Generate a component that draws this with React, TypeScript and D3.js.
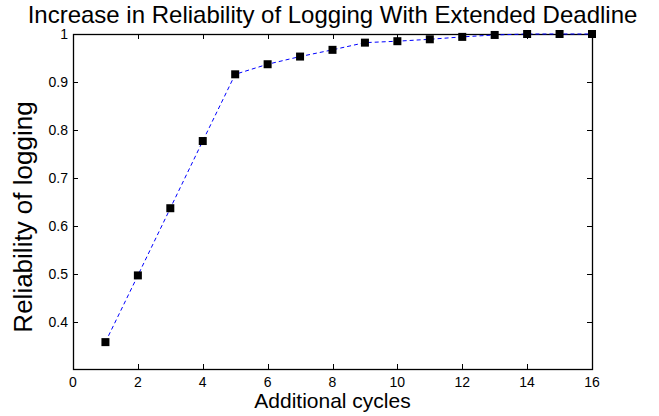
import React, { useEffect, useRef } from "react";
import * as d3 from "d3";

const cycles = [1, 2, 3, 4, 5, 6, 7, 8, 9, 10, 11, 12, 13, 14, 15, 16];
const reliability = [0.358, 0.497, 0.637, 0.777, 0.916, 0.937, 0.953, 0.967, 0.982, 0.985, 0.989, 0.994, 0.998, 1.0, 1.0, 1.0];
const xTicks = [0, 2, 4, 6, 8, 10, 12, 14, 16];
const yTicks = [0.4, 0.5, 0.6, 0.7, 0.8, 0.9, 1];
const titleText = "Increase in Reliability of Logging With Extended Deadline";
const xLabel = "Additional cycles";
const yLabel = "Reliability of logging";

const W = 659;
const H = 416;
const M = { left: 73, right: 592, top: 34, bottom: 369 };
const FONT = "'Liberation Sans', Arial, Helvetica, sans-serif";

export default function App() {
  const ref = useRef<SVGSVGElement | null>(null);

  useEffect(() => {
    const svg = d3.select(ref.current);
    svg.selectAll("*").remove();

    const x = d3.scaleLinear().domain([0, 16]).range([M.left, M.right]);
    const y = d3.scaleLinear().domain([0.302, 1]).range([M.bottom, M.top]);

    svg.append("rect").attr("width", W).attr("height", H).attr("fill", "#fff");

    const tickLen = 5;
    const g = svg.append("g").attr("stroke", "#000").attr("stroke-width", 1).attr("fill", "none");
    xTicks.forEach((t) => {
      const px = Math.round(x(t)) + 0.5;
      g.append("line").attr("x1", px).attr("x2", px).attr("y1", M.bottom).attr("y2", M.bottom - tickLen);
      g.append("line").attr("x1", px).attr("x2", px).attr("y1", M.top).attr("y2", M.top + tickLen);
    });
    yTicks.forEach((t) => {
      const py = Math.round(y(t)) + 0.5;
      g.append("line").attr("x1", M.left).attr("x2", M.left + tickLen).attr("y1", py).attr("y2", py);
      g.append("line").attr("x1", M.right).attr("x2", M.right - tickLen).attr("y1", py).attr("y2", py);
    });
    g.append("rect")
      .attr("x", M.left + 0.5)
      .attr("y", M.top + 0.5)
      .attr("width", M.right - M.left)
      .attr("height", M.bottom - M.top)
      .attr("stroke-width", 1.3);

    svg
      .append("g")
      .selectAll("text")
      .data(xTicks)
      .join("text")
      .attr("x", (d) => x(d))
      .attr("y", 387)
      .attr("text-anchor", "middle")
      .attr("font-family", FONT)
      .attr("font-size", 14)
      .text((d) => String(d));

    svg
      .append("g")
      .selectAll("text")
      .data(yTicks)
      .join("text")
      .attr("x", 68)
      .attr("y", (d) => y(d) + 5)
      .attr("text-anchor", "end")
      .attr("font-family", FONT)
      .attr("font-size", 14)
      .text((d) => (d === 1 ? "1" : d.toFixed(1)));

    const pts = cycles.map((c, i) => [c, reliability[i]] as [number, number]);
    const line = d3
      .line<[number, number]>()
      .x((d) => x(d[0]))
      .y((d) => y(d[1]));
    svg
      .append("path")
      .datum(pts)
      .attr("d", line)
      .attr("fill", "none")
      .attr("stroke", "#0000ff")
      .attr("stroke-width", 1)
      .attr("stroke-dasharray", "4,3");

    const s = 8;
    svg
      .append("g")
      .selectAll("rect")
      .data(pts)
      .join("rect")
      .attr("x", (d) => x(d[0]) - s / 2)
      .attr("y", (d) => y(d[1]) - s / 2)
      .attr("width", s)
      .attr("height", s)
      .attr("fill", "#000");

    svg
      .append("text")
      .attr("x", (M.left + M.right) / 2)
      .attr("y", 23)
      .attr("text-anchor", "middle")
      .attr("font-family", FONT)
      .attr("font-size", 24)
      .text(titleText);

    svg
      .append("text")
      .attr("x", (M.left + M.right) / 2)
      .attr("y", 408)
      .attr("text-anchor", "middle")
      .attr("font-family", FONT)
      .attr("font-size", 21)
      .text(xLabel);

    svg
      .append("text")
      .attr("transform", `translate(32,217) rotate(-90)`)
      .attr("text-anchor", "middle")
      .attr("font-family", FONT)
      .attr("font-size", 26)
      .text(yLabel);
  }, []);

  return (
    <svg
      ref={ref}
      width={W}
      height={H}
      style={{ position: "absolute", left: 0, top: 0, display: "block" }}
    />
  );
}
